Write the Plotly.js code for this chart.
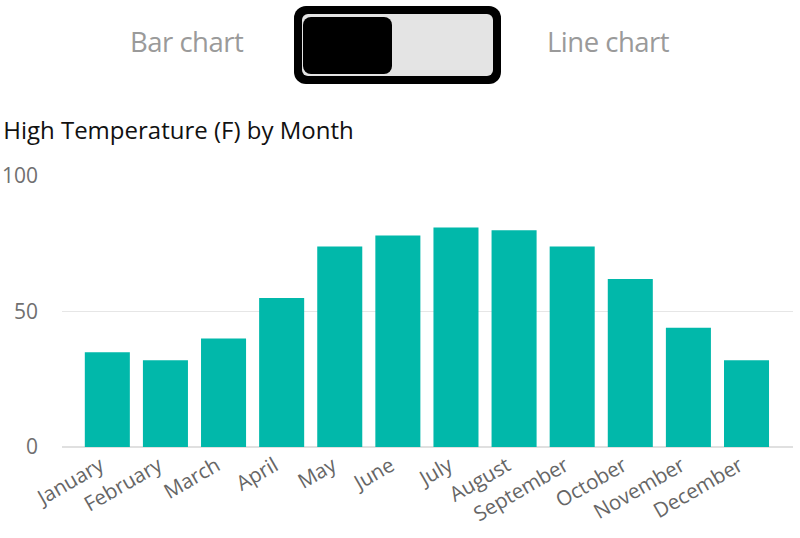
<!DOCTYPE html>
<html>
<head>
<meta charset="utf-8">
<script src="https://cdn.plot.ly/plotly-3.0.1.min.js"></script>
<style>
  html, body { margin: 0; padding: 0; background: #fff; }
  #wrap { position: relative; width: 800px; height: 538px; overflow: hidden; }
  #chart { position: absolute; left: 0; top: 0; width: 800px; height: 538px; }
  .lbl { position: absolute; top: 23px; font-family: "Open Sans", "Noto Sans", sans-serif; font-size: 27.5px; color: #9a9a9a; font-weight: 400; letter-spacing: -0.5px; }
  #tgl { position: absolute; left: 294px; top: 6px; width: 207px; height: 78px; background: #000; border-radius: 12px; }
  #tglIn { position: absolute; left: 8px; top: 8px; width: 191px; height: 62px; background: #e4e4e4; border-radius: 6px; }
  #knob { position: absolute; left: 1px; top: 3px; width: 89px; height: 57px; background: #000; border-radius: 8px; }
</style>
</head>
<body>
<div id="wrap">
  <div id="chart"></div>
  <div class="lbl" style="left:130px;">Bar chart</div>
  <div class="lbl" style="left:547px;">Line chart</div>
  <div id="tgl"><div id="tglIn"><div id="knob"></div></div></div>
</div>
<script>
const months = ["January","February","March","April","May","June","July","August","September","October","November","December"];
const highTemps = [35, 32, 40, 55, 74, 78, 81, 80, 74, 62, 44, 32];
const yTicks = [0, 50, 100];
const chartTitle = "High Temperature (F) by Month";

const trace = {
  type: "bar",
  x: months,
  y: highTemps,
  marker: { color: "#01B8AA" },
  hoverinfo: "x+y"
};

const layout = {
  width: 800,
  height: 538,
  margin: { l: 62, r: 7, t: 176, b: 91 },
  paper_bgcolor: "rgba(0,0,0,0)",
  plot_bgcolor: "rgba(0,0,0,0)",
  bargap: 0.225,
  showlegend: false,
  title: {
    text: chartTitle,
    xref: "container", yref: "container",
    x: 0.004, xanchor: "left",
    y: 1 - 131/538, yanchor: "middle",
    font: { family: "Open Sans, Noto Sans, sans-serif", size: 24, color: "#111111" }
  },
  xaxis: {
    type: "category",
    range: [-0.78, 11.8],
    tickangle: -30,
    tickfont: { family: "Open Sans, Noto Sans, sans-serif", size: 20.5, color: "#666666" },
    showgrid: false,
    showline: false,
    ticks: "",
    ticklabelstandoff: 2,
    ticklabelshift: -7,
    fixedrange: true
  },
  yaxis: {
    range: [0, 100],
    tickvals: yTicks,
    ticktext: yTicks.map(String),
    tickfont: { family: "Open Sans, Noto Sans, sans-serif", size: 21, color: "#707070" },
    showgrid: true,
    gridcolor: "#e6e6e6",
    gridwidth: 1.5,
    zeroline: true,
    zerolinecolor: "#e0e0e0",
    zerolinewidth: 1.5,
    ticks: "",
    ticklabelstandoff: 23,
    fixedrange: true
  }
};

Plotly.newPlot("chart", [trace], layout, { displayModeBar: false, staticPlot: true });
</script>
</body>
</html>
